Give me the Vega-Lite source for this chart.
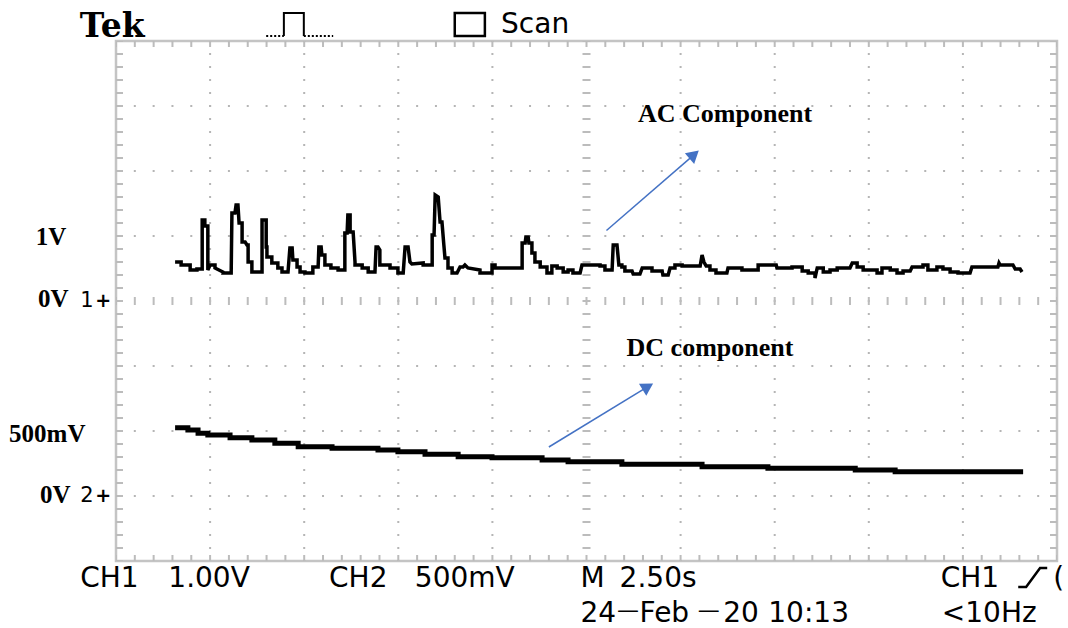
{
  "$schema": "https://vega.github.io/schema/vega-lite/v6.json",
  "width": 941,
  "height": 520,
  "autosize": {"type": "none"},
  "padding": {"left": 116, "top": 41, "right": 11, "bottom": 67},
  "background": "white",
  "config": {"view": {"stroke": "#c4c4c4", "strokeWidth": 2.5}},
  "resolve": {"scale": {"y": "independent"}},
  "layer": [
    {
      "data": {"values": [{"t": 2.5}, {"t": 5}, {"t": 7.5}, {"t": 10}, {"t": 15}, {"t": 17.5}, {"t": 20}, {"t": 22.5}]},
      "mark": {"type": "rule", "color": "#b5b5b5", "strokeWidth": 2, "strokeDash": [2, 11], "strokeDashOffset": 1},
      "encoding": {"x": {"field": "t", "type": "quantitative", "scale": {"domain": [0, 25]}, "axis": null}}
    },
    {
      "data": {"values": [{"v": -3}, {"v": -2}, {"v": -1}, {"v": 1}, {"v": 2}, {"v": 3}]},
      "mark": {"type": "rule", "color": "#b5b5b5", "strokeWidth": 2, "strokeDash": [2, 16.82], "strokeDashOffset": 1},
      "encoding": {"y": {"field": "v", "type": "quantitative", "scale": {"domain": [-4, 4]}, "axis": null}}
    },
    {
      "data": {"values": [{"t": 12.5}]},
      "mark": {"type": "rule", "color": "#bcbcbc", "strokeWidth": 8, "strokeDash": [2, 11], "strokeDashOffset": 1},
      "encoding": {"x": {"field": "t", "type": "quantitative", "scale": {"domain": [0, 25]}, "axis": null}}
    },
    {
      "data": {"values": [{"v": 0}]},
      "mark": {"type": "rule", "color": "#bcbcbc", "strokeWidth": 8, "strokeDash": [2, 16.82], "strokeDashOffset": 1},
      "encoding": {"y": {"field": "v", "type": "quantitative", "scale": {"domain": [-4, 4]}, "axis": null}}
    },
    {
      "data": {"values": [{"t": 0}, {"t": 25}]},
      "mark": {"type": "rule", "color": "#bcbcbc", "strokeWidth": 14, "strokeDash": [2, 11], "strokeDashOffset": 1, "clip": true},
      "encoding": {"x": {"field": "t", "type": "quantitative", "scale": {"domain": [0, 25]}, "axis": null}}
    },
    {
      "data": {"values": [{"v": -4}, {"v": 4}]},
      "mark": {"type": "rule", "color": "#bcbcbc", "strokeWidth": 12, "strokeDash": [2, 16.82], "strokeDashOffset": 1, "clip": true},
      "encoding": {"y": {"field": "v", "type": "quantitative", "scale": {"domain": [-4, 4]}, "axis": null}}
    },
    {
      "data": {"values": [
        {"t":1.57,"v":0.6},{"t":1.73,"v":0.6},{"t":1.73,"v":0.554},{"t":1.97,"v":0.554},{"t":1.97,"v":0.477},{"t":2.15,"v":0.477},{"t":2.15,"v":0.492},{"t":2.29,"v":0.492},{"t":2.29,"v":1.246},{"t":2.36,"v":1.246},{"t":2.36,"v":1.154},{"t":2.44,"v":1.154},{"t":2.44,"v":0.477},{"t":2.5,"v":0.554},{"t":2.63,"v":0.554},{"t":2.63,"v":0.508},{"t":2.84,"v":0.446},{"t":2.84,"v":0.431},{"t":3.06,"v":0.431},{"t":3.08,"v":1.354},{"t":3.16,"v":1.354},{"t":3.19,"v":1.477},{"t":3.24,"v":1.477},{"t":3.27,"v":1.2},{"t":3.35,"v":1.2},{"t":3.35,"v":0.908},{"t":3.43,"v":0.908},{"t":3.48,"v":0.862},{"t":3.51,"v":0.862},{"t":3.51,"v":0.6},{"t":3.61,"v":0.6},{"t":3.61,"v":0.446},{"t":3.88,"v":0.446},{"t":3.88,"v":1.246},{"t":3.99,"v":1.246},{"t":3.99,"v":0.831},{"t":4.01,"v":0.831},{"t":4.01,"v":0.677},{"t":4.14,"v":0.677},{"t":4.14,"v":0.585},{"t":4.3,"v":0.585},{"t":4.3,"v":0.508},{"t":4.41,"v":0.508},{"t":4.41,"v":0.446},{"t":4.57,"v":0.446},{"t":4.62,"v":0.815},{"t":4.68,"v":0.815},{"t":4.7,"v":0.631},{"t":4.81,"v":0.631},{"t":4.81,"v":0.523},{"t":4.89,"v":0.523},{"t":4.89,"v":0.446},{"t":5.02,"v":0.446},{"t":5.02,"v":0.431},{"t":5.23,"v":0.431},{"t":5.23,"v":0.523},{"t":5.37,"v":0.523},{"t":5.39,"v":0.831},{"t":5.45,"v":0.831},{"t":5.47,"v":0.708},{"t":5.55,"v":0.708},{"t":5.55,"v":0.554},{"t":5.71,"v":0.554},{"t":5.71,"v":0.508},{"t":5.9,"v":0.508},{"t":5.9,"v":0.477},{"t":6.08,"v":0.477},{"t":6.08,"v":1.046},{"t":6.14,"v":1.046},{"t":6.16,"v":1.323},{"t":6.22,"v":1.323},{"t":6.22,"v":1.062},{"t":6.3,"v":1.062},{"t":6.35,"v":0.6},{"t":6.35,"v":0.554},{"t":6.54,"v":0.554},{"t":6.54,"v":0.508},{"t":6.7,"v":0.508},{"t":6.7,"v":0.446},{"t":6.88,"v":0.446},{"t":6.91,"v":0.831},{"t":6.96,"v":0.831},{"t":7.01,"v":0.785},{"t":7.01,"v":0.554},{"t":7.28,"v":0.554},{"t":7.28,"v":0.508},{"t":7.49,"v":0.508},{"t":7.49,"v":0.431},{"t":7.63,"v":0.431},{"t":7.68,"v":0.831},{"t":7.76,"v":0.831},{"t":7.81,"v":0.6},{"t":7.86,"v":0.569},{"t":8.16,"v":0.585},{"t":8.16,"v":0.554},{"t":8.4,"v":0.554},{"t":8.4,"v":1.015},{"t":8.45,"v":1.015},{"t":8.48,"v":1.631},{"t":8.56,"v":1.6},{"t":8.61,"v":1.215},{"t":8.66,"v":1.215},{"t":8.71,"v":0.862},{"t":8.74,"v":0.662},{"t":8.82,"v":0.662},{"t":8.82,"v":0.508},{"t":8.93,"v":0.508},{"t":8.93,"v":0.431},{"t":9.06,"v":0.431},{"t":9.14,"v":0.523},{"t":9.22,"v":0.523},{"t":9.27,"v":0.554},{"t":9.35,"v":0.508},{"t":9.67,"v":0.477},{"t":9.67,"v":0.431},{"t":9.99,"v":0.431},{"t":9.99,"v":0.554},{"t":10.07,"v":0.554},{"t":10.07,"v":0.508},{"t":10.79,"v":0.508},{"t":10.79,"v":0.892},{"t":10.87,"v":0.892},{"t":10.89,"v":0.985},{"t":10.95,"v":0.985},{"t":10.97,"v":0.892},{"t":11.05,"v":0.892},{"t":11.05,"v":0.738},{"t":11.13,"v":0.738},{"t":11.13,"v":0.6},{"t":11.27,"v":0.6},{"t":11.27,"v":0.523},{"t":11.45,"v":0.523},{"t":11.45,"v":0.431},{"t":11.58,"v":0.431},{"t":11.58,"v":0.538},{"t":11.72,"v":0.538},{"t":11.72,"v":0.508},{"t":11.88,"v":0.508},{"t":11.88,"v":0.446},{"t":12.01,"v":0.446},{"t":12.01,"v":0.477},{"t":12.14,"v":0.477},{"t":12.14,"v":0.431},{"t":12.33,"v":0.431},{"t":12.38,"v":0.554},{"t":12.86,"v":0.554},{"t":12.86,"v":0.538},{"t":12.99,"v":0.538},{"t":12.99,"v":0.477},{"t":13.18,"v":0.477},{"t":13.21,"v":0.862},{"t":13.31,"v":0.862},{"t":13.36,"v":0.554},{"t":13.44,"v":0.554},{"t":13.44,"v":0.523},{"t":13.52,"v":0.523},{"t":13.52,"v":0.462},{"t":13.71,"v":0.462},{"t":13.74,"v":0.415},{"t":13.92,"v":0.415},{"t":13.98,"v":0.508},{"t":14.24,"v":0.508},{"t":14.24,"v":0.462},{"t":14.51,"v":0.462},{"t":14.53,"v":0.4},{"t":14.67,"v":0.4},{"t":14.72,"v":0.508},{"t":14.85,"v":0.508},{"t":14.85,"v":0.554},{"t":15.04,"v":0.554},{"t":15.04,"v":0.538},{"t":15.52,"v":0.538},{"t":15.57,"v":0.708},{"t":15.62,"v":0.6},{"t":15.68,"v":0.538},{"t":15.78,"v":0.538},{"t":15.78,"v":0.477},{"t":15.94,"v":0.477},{"t":15.94,"v":0.431},{"t":16.23,"v":0.431},{"t":16.26,"v":0.508},{"t":16.63,"v":0.508},{"t":16.63,"v":0.477},{"t":17.06,"v":0.477},{"t":17.06,"v":0.554},{"t":17.54,"v":0.554},{"t":17.56,"v":0.508},{"t":17.96,"v":0.508},{"t":17.96,"v":0.523},{"t":18.23,"v":0.523},{"t":18.23,"v":0.462},{"t":18.39,"v":0.462},{"t":18.39,"v":0.431},{"t":18.57,"v":0.431},{"t":18.57,"v":0.354},{"t":18.63,"v":0.508},{"t":18.79,"v":0.508},{"t":18.79,"v":0.446},{"t":18.97,"v":0.446},{"t":18.97,"v":0.477},{"t":19.16,"v":0.477},{"t":19.16,"v":0.508},{"t":19.5,"v":0.508},{"t":19.56,"v":0.585},{"t":19.69,"v":0.585},{"t":19.69,"v":0.523},{"t":19.85,"v":0.523},{"t":19.85,"v":0.477},{"t":20.22,"v":0.477},{"t":20.22,"v":0.431},{"t":20.35,"v":0.431},{"t":20.35,"v":0.508},{"t":20.57,"v":0.508},{"t":20.57,"v":0.477},{"t":20.75,"v":0.477},{"t":20.75,"v":0.431},{"t":20.91,"v":0.431},{"t":20.91,"v":0.462},{"t":21.1,"v":0.462},{"t":21.15,"v":0.523},{"t":21.44,"v":0.523},{"t":21.44,"v":0.554},{"t":21.57,"v":0.554},{"t":21.57,"v":0.477},{"t":21.81,"v":0.477},{"t":21.81,"v":0.523},{"t":21.97,"v":0.523},{"t":21.97,"v":0.492},{"t":22.16,"v":0.492},{"t":22.16,"v":0.446},{"t":22.37,"v":0.446},{"t":22.37,"v":0.431},{"t":22.69,"v":0.431},{"t":22.74,"v":0.523},{"t":23.43,"v":0.523},{"t":23.46,"v":0.585},{"t":23.49,"v":0.554},{"t":23.83,"v":0.554},{"t":23.89,"v":0.492},{"t":24.02,"v":0.492},{"t":24.07,"v":0.446}
      ]},
      "mark": {"type": "line", "color": "#000000", "strokeWidth": 3.5},
      "encoding": {
        "x": {"field": "t", "type": "quantitative", "scale": {"domain": [0, 25]}, "axis": null},
        "y": {"field": "v", "type": "quantitative", "scale": {"domain": [-4, 4]}, "axis": null},
        "order": {"value": null}
      }
    },
    {
      "data": {"values": [
        {"t":1.57,"v":0.525},{"t":1.91,"v":0.508},{"t":2.18,"v":0.482},{"t":2.44,"v":0.469},{"t":3.03,"v":0.448},{"t":3.61,"v":0.431},{"t":4.22,"v":0.405},{"t":4.84,"v":0.379},{"t":5.74,"v":0.367},{"t":6.96,"v":0.354},{"t":7.49,"v":0.341},{"t":8.21,"v":0.321},{"t":9.09,"v":0.302},{"t":9.99,"v":0.295},{"t":11.32,"v":0.277},{"t":12.01,"v":0.264},{"t":13.44,"v":0.244},{"t":15.57,"v":0.225},{"t":17.32,"v":0.213},{"t":19.64,"v":0.2},{"t":20.7,"v":0.187},{"t":24.1,"v":0.187}
      ]},
      "mark": {"type": "line", "color": "#000000", "strokeWidth": 5, "interpolate": "step-after"},
      "encoding": {
        "x": {"field": "t", "type": "quantitative", "scale": {"domain": [0, 25]}, "axis": null},
        "y": {"field": "v", "type": "quantitative", "scale": {"domain": [-0.5, 3.5]}, "axis": null}
      }
    },
    {
      "data": {"values": [
        {"t": 13.03, "v": 1.085, "t2": 15.36, "v2": 2.252},
        {"t": 11.5, "v": -2.246, "t2": 14.13, "v2": -1.317}
      ]},
      "mark": {"type": "rule", "color": "#4472C4", "strokeWidth": 1.5},
      "encoding": {
        "x": {"field": "t", "type": "quantitative", "scale": {"domain": [0, 25]}, "axis": null},
        "y": {"field": "v", "type": "quantitative", "scale": {"domain": [-4, 4]}, "axis": null},
        "x2": {"field": "t2"},
        "y2": {"field": "v2"}
      }
    },
    {
      "data": {"values": [{"t": 15.36, "v": 2.252}]},
      "mark": {"type": "point", "shape": "triangle-up", "filled": true, "color": "#4472C4", "size": 200, "angle": 49, "opacity": 1},
      "encoding": {
        "x": {"field": "t", "type": "quantitative", "scale": {"domain": [0, 25]}, "axis": null},
        "y": {"field": "v", "type": "quantitative", "scale": {"domain": [-4, 4]}, "axis": null}
      }
    },
    {
      "data": {"values": [{"t": 14.13, "v": -1.317}]},
      "mark": {"type": "point", "shape": "triangle-up", "filled": true, "color": "#4472C4", "size": 200, "angle": 59, "opacity": 1},
      "encoding": {
        "x": {"field": "t", "type": "quantitative", "scale": {"domain": [0, 25]}, "axis": null},
        "y": {"field": "v", "type": "quantitative", "scale": {"domain": [-4, 4]}, "axis": null}
      }
    },
    {
      "data": {"values": [
        {"t": 16.18, "v": 2.758, "label": "AC Component"},
        {"t": 15.78, "v": -0.846, "label": "DC component"}
      ]},
      "mark": {"type": "text", "font": "Liberation Serif", "fontWeight": "bold", "fontSize": 26, "align": "center", "baseline": "alphabetic", "color": "#000000"},
      "encoding": {
        "x": {"field": "t", "type": "quantitative", "scale": {"domain": [0, 25]}, "axis": null},
        "y": {"field": "v", "type": "quantitative", "scale": {"domain": [-4, 4]}, "axis": null},
        "text": {"field": "label"}
      }
    },
    {
      "data": {"values": [
        {"t": -2.13, "v": 0.985, "label": "1V"},
        {"t": -2.07, "v": 0.03, "label": "0V"},
        {"t": -2.84, "v": -2.04, "label": "500mV"},
        {"t": -2.02, "v": -2.985, "label": "0V"}
      ]},
      "mark": {"type": "text", "font": "Liberation Serif", "fontWeight": "bold", "fontSize": 25, "align": "left", "baseline": "middle", "color": "#000000"},
      "encoding": {
        "x": {"field": "t", "type": "quantitative", "scale": {"domain": [0, 25]}, "axis": null},
        "y": {"field": "v", "type": "quantitative", "scale": {"domain": [-4, 4]}, "axis": null},
        "text": {"field": "label"}
      }
    },
    {
      "data": {"values": [
        {"t": -0.95, "v": 0.0, "label": "1"},
        {"t": -0.95, "v": -3.0, "label": "2"}
      ]},
      "mark": {"type": "text", "font": "DejaVu Sans", "fontSize": 21, "align": "left", "baseline": "middle", "color": "#000000"},
      "encoding": {
        "x": {"field": "t", "type": "quantitative", "scale": {"domain": [0, 25]}, "axis": null},
        "y": {"field": "v", "type": "quantitative", "scale": {"domain": [-4, 4]}, "axis": null},
        "text": {"field": "label"}
      }
    },
    {
      "data": {"values": [
        {"t": -0.55, "v": 0.0, "label": "+"},
        {"t": -0.55, "v": -3.0, "label": "+"}
      ]},
      "mark": {"type": "text", "font": "DejaVu Sans", "fontWeight": "bold", "fontSize": 19, "align": "left", "baseline": "middle", "color": "#000000"},
      "encoding": {
        "x": {"field": "t", "type": "quantitative", "scale": {"domain": [0, 25]}, "axis": null},
        "y": {"field": "v", "type": "quantitative", "scale": {"domain": [-4, 4]}, "axis": null},
        "text": {"field": "label"}
      }
    },
    {
      "data": {"values": [
        {"t": -0.95, "v": -4.4, "label": "CH1"},
        {"t": 1.39, "v": -4.4, "label": "1.00V"},
        {"t": 5.66, "v": -4.4, "label": "CH2"},
        {"t": 7.94, "v": -4.4, "label": "500mV"},
        {"t": 12.34, "v": -4.4, "label": "M"},
        {"t": 13.38, "v": -4.4, "label": "2.50s"},
        {"t": 21.91, "v": -4.4, "label": "CH1"},
        {"t": 24.9, "v": -4.4, "label": "("},
        {"t": 12.34, "v": -4.934, "label": "24"},
        {"t": 13.91, "v": -4.934, "label": "Feb"},
        {"t": 16.13, "v": -4.934, "label": "20"},
        {"t": 17.33, "v": -4.934, "label": "10:13"},
        {"t": 21.94, "v": -4.934, "label": "<10Hz"},
        {"t": 10.23, "v": 4.118, "label": "Scan"}
      ]},
      "mark": {"type": "text", "font": "DejaVu Sans", "fontSize": 28, "align": "left", "baseline": "alphabetic", "color": "#000000"},
      "encoding": {
        "x": {"field": "t", "type": "quantitative", "scale": {"domain": [0, 25]}, "axis": null},
        "y": {"field": "v", "type": "quantitative", "scale": {"domain": [-4, 4]}, "axis": null},
        "text": {"field": "label"}
      }
    },
    {
      "data": {"values": [
        {"t": 13.6, "v": -4.86, "label": "—"},
        {"t": 15.75, "v": -4.86, "label": "—"}
      ]},
      "mark": {"type": "text", "font": "DejaVu Sans", "fontSize": 22, "align": "center", "baseline": "alphabetic", "color": "#000000"},
      "encoding": {
        "x": {"field": "t", "type": "quantitative", "scale": {"domain": [0, 25]}, "axis": null},
        "y": {"field": "v", "type": "quantitative", "scale": {"domain": [-4, 4]}, "axis": null},
        "text": {"field": "label"}
      }
    },
    {
      "data": {"values": [{"t": -0.96, "v": 4.062, "label": "Tek"}]},
      "mark": {"type": "text", "font": "DejaVu Serif", "fontWeight": "bold", "fontSize": 33, "align": "left", "baseline": "alphabetic", "color": "#000000"},
      "encoding": {
        "x": {"field": "t", "type": "quantitative", "scale": {"domain": [0, 25]}, "axis": null},
        "y": {"field": "v", "type": "quantitative", "scale": {"domain": [-4, 4]}, "axis": null},
        "text": {"field": "label"}
      }
    },
    {
      "data": {"values": [{"t": 9.0, "v": 4.077, "t2": 9.8, "v2": 4.431}]},
      "mark": {"type": "rect", "filled": false, "color": "#000000", "strokeWidth": 2.5},
      "encoding": {
        "x": {"field": "t", "type": "quantitative", "scale": {"domain": [0, 25]}, "axis": null},
        "y": {"field": "v", "type": "quantitative", "scale": {"domain": [-4, 4]}, "axis": null},
        "x2": {"field": "t2"},
        "y2": {"field": "v2"}
      }
    },
    {
      "data": {"values": [
        {"t": 4.46, "v": 4.077}, {"t": 4.46, "v": 4.431}, {"t": 4.99, "v": 4.431}, {"t": 4.99, "v": 4.077}
      ]},
      "mark": {"type": "line", "color": "#000000", "strokeWidth": 2},
      "encoding": {
        "x": {"field": "t", "type": "quantitative", "scale": {"domain": [0, 25]}, "axis": null},
        "y": {"field": "v", "type": "quantitative", "scale": {"domain": [-4, 4]}, "axis": null},
        "order": {"value": null}
      }
    },
    {
      "data": {"values": [
        {"t": 3.99, "v": 4.077, "seg": "a"}, {"t": 4.46, "v": 4.077, "seg": "a"},
        {"t": 4.99, "v": 4.077, "seg": "b"}, {"t": 5.77, "v": 4.077, "seg": "b"}
      ]},
      "mark": {"type": "line", "color": "#000000", "strokeWidth": 2, "strokeDash": [2, 2]},
      "encoding": {
        "x": {"field": "t", "type": "quantitative", "scale": {"domain": [0, 25]}, "axis": null},
        "y": {"field": "v", "type": "quantitative", "scale": {"domain": [-4, 4]}, "axis": null},
        "detail": {"field": "seg"}
      }
    },
    {
      "data": {"values": [
        {"t": 23.97, "v": -4.4}, {"t": 24.18, "v": -4.4}, {"t": 24.55, "v": -4.108}, {"t": 24.74, "v": -4.108}
      ]},
      "mark": {"type": "line", "color": "#000000", "strokeWidth": 2.5},
      "encoding": {
        "x": {"field": "t", "type": "quantitative", "scale": {"domain": [0, 25]}, "axis": null},
        "y": {"field": "v", "type": "quantitative", "scale": {"domain": [-4, 4]}, "axis": null},
        "order": {"value": null}
      }
    }
  ]
}
